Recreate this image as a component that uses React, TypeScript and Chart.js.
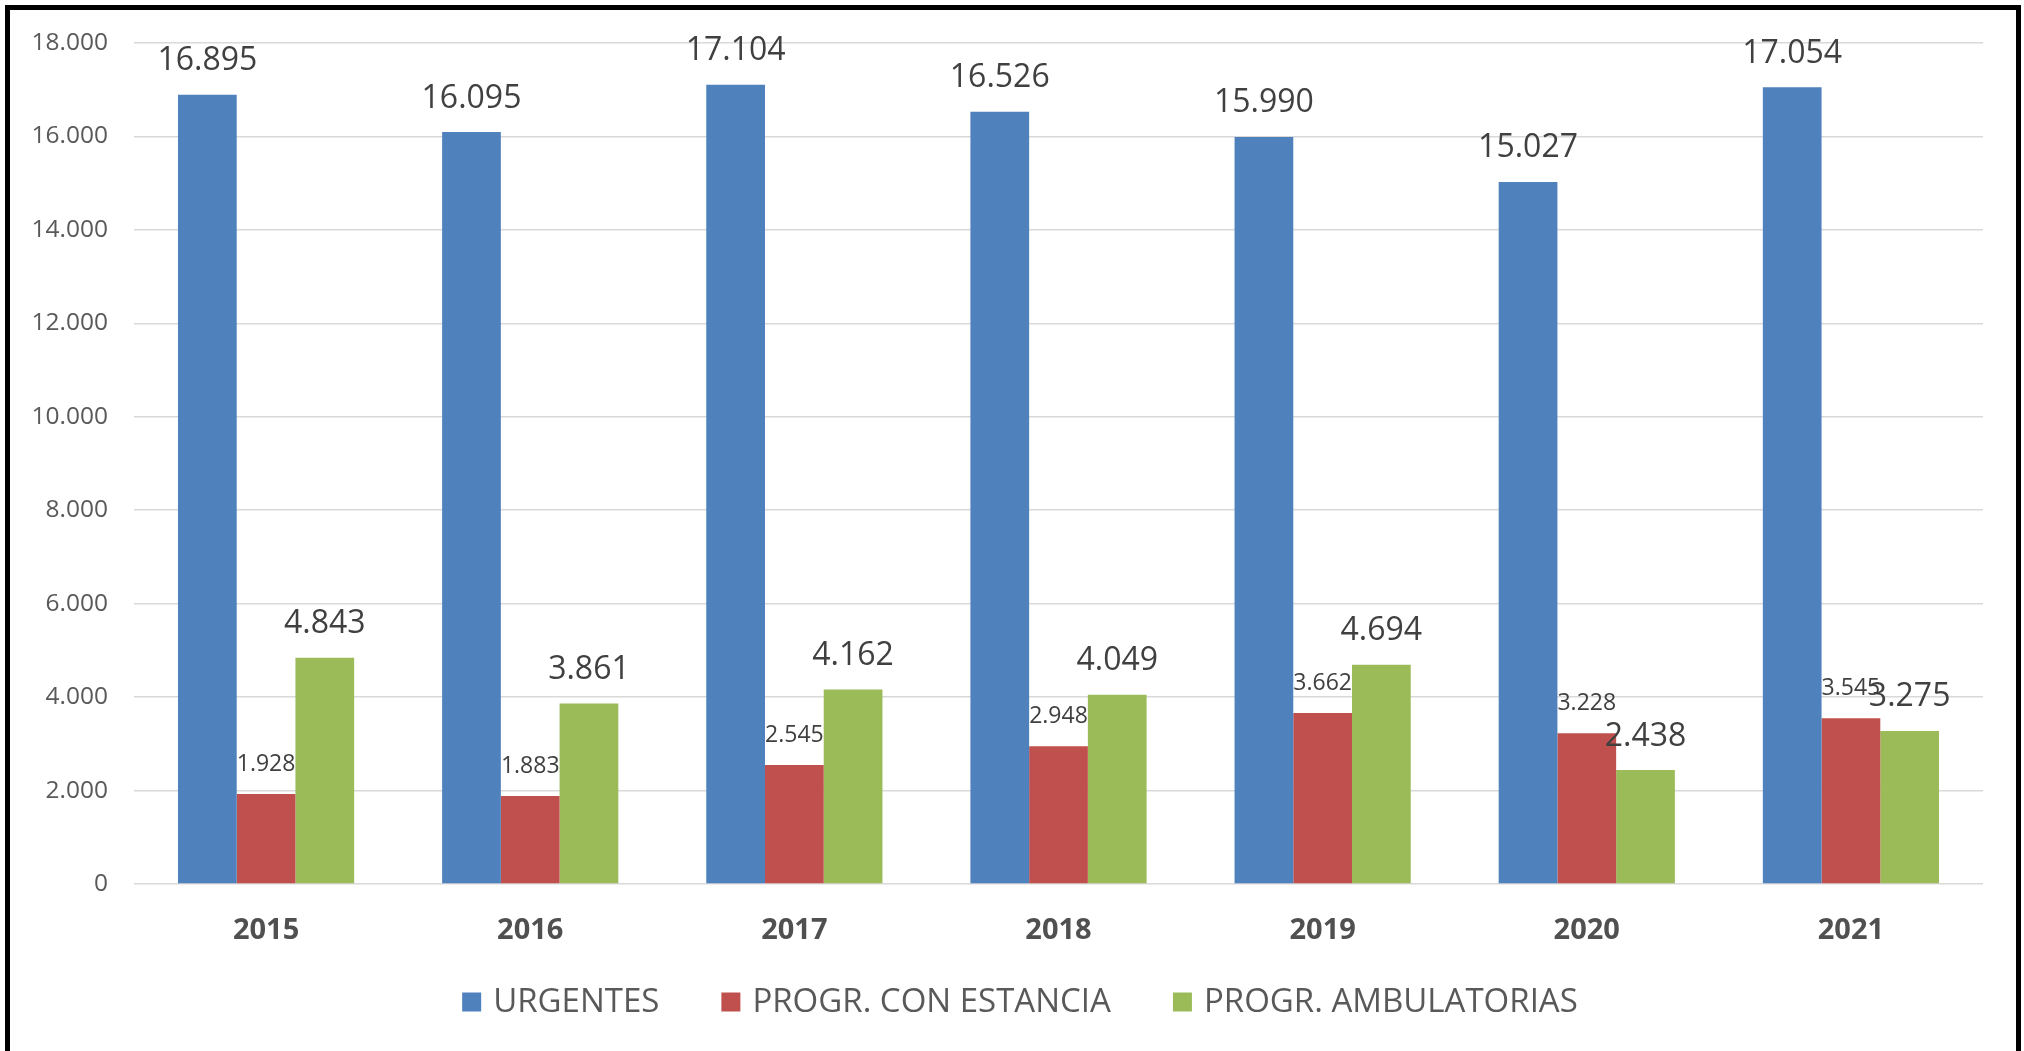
import React, { useEffect, useRef } from "react";
import { Chart, registerables } from "chart.js";

Chart.register(...registerables);

const categories = ["2015", "2016", "2017", "2018", "2019", "2020", "2021"];
const urgentes = [16895, 16095, 17104, 16526, 15990, 15027, 17054];
const conEstancia = [1928, 1883, 2545, 2948, 3662, 3228, 3545];
const ambulatorias = [4843, 3861, 4162, 4049, 4694, 2438, 3275];
const seriesLabels = ["URGENTES", "PROGR. CON ESTANCIA", "PROGR. AMBULATORIAS"];
const seriesColors = ["#4F81BD", "#C0504D", "#9BBB59"];
const yMax = 18000;
const yStep = 2000;

const FONT = '"Open Sans", "DejaVu Sans", sans-serif';

const fmt = (v: number) =>
  String(Math.round(v)).replace(/\B(?=(\d{3})+(?!\d))/g, ".");

const dataLabelPlugin = {
  id: "dataLabels",
  afterDatasetsDraw(chart: any) {
    const ctx = chart.ctx;
    chart.data.datasets.forEach((ds: any, di: number) => {
      const meta = chart.getDatasetMeta(di);
      const small = di === 1;
      const size = small ? 23 : 32;
      const off = small ? 23 : 24.5;
      ctx.save();
      ctx.font = `${size}px ${FONT}`;
      ctx.fillStyle = "#404040";
      ctx.textAlign = "center";
      ctx.textBaseline = "alphabetic";
      meta.data.forEach((el: any, i: number) => {
        ctx.fillText(fmt(ds.data[i]), el.x, el.y - off);
      });
      ctx.restore();
    });
  },
};

const legendPlugin = {
  id: "bottomLegend",
  afterDraw(chart: any) {
    const ctx = chart.ctx;
    ctx.save();
    ctx.font = `33px ${FONT}`;
    const box = 19;
    const gap = 12;
    const spacing = 62;
    const items = chart.data.datasets.map((ds: any) => ({
      text: ds.label,
      color: ds.backgroundColor,
      w: ctx.measureText(ds.label).width,
    }));
    const total =
      items.reduce((s: number, it: any) => s + box + gap + it.w, 0) +
      spacing * (items.length - 1);
    let x = chart.width / 2 - total / 2 + 8;
    const yc = chart.chartArea.bottom + 119;
    ctx.textBaseline = "middle";
    ctx.textAlign = "left";
    items.forEach((it: any) => {
      ctx.fillStyle = it.color;
      ctx.fillRect(x, yc - box / 2 - 1, box, box);
      ctx.fillStyle = "#595959";
      ctx.fillText(it.text, x + box + gap, yc);
      x += box + gap + it.w + spacing;
    });
    ctx.restore();
  },
};

export default function App() {
  const canvasRef = useRef<HTMLCanvasElement | null>(null);

  useEffect(() => {
    if (!canvasRef.current) return;
    const chart = new Chart(canvasRef.current, {
      type: "bar",
      data: {
        labels: categories,
        datasets: [
          { label: seriesLabels[0], data: urgentes, backgroundColor: seriesColors[0] },
          { label: seriesLabels[1], data: conEstancia, backgroundColor: seriesColors[1] },
          { label: seriesLabels[2], data: ambulatorias, backgroundColor: seriesColors[2] },
        ],
      },
      options: {
        animation: false,
        responsive: true,
        maintainAspectRatio: false,
        devicePixelRatio: 1,
        layout: { padding: { left: 10, top: 43, right: 41, bottom: 87 } },
        datasets: {
          bar: { categoryPercentage: 0.667, barPercentage: 1.0 },
        },
        plugins: {
          legend: { display: false },
          tooltip: { enabled: false },
        },
        scales: {
          x: {
            grid: { display: false, drawTicks: false },
            border: { display: false },
            ticks: {
              font: { family: FONT, size: 29, weight: "bold" },
              color: "#505050",
              padding: 29,
            },
            afterFit: (scale: any) => {
              scale.height = 80;
            },
          },
          y: {
            min: 0,
            max: yMax,
            grid: { color: "#D9D9D9", lineWidth: 1.5, drawTicks: false },
            border: { display: false },
            ticks: {
              stepSize: yStep,
              font: { family: FONT, size: 24.5 },
              color: "#595959",
              padding: 26,
              callback: (v: any) => fmt(Number(v)),
            },
            afterFit: (scale: any) => {
              scale.width = 124;
            },
          },
        },
      },
      plugins: [dataLabelPlugin, legendPlugin],
    });
    return () => chart.destroy();
  }, []);

  return (
    <div
      style={{
        position: "fixed",
        left: 0,
        top: 0,
        width: 2024,
        height: 1051,
        background: "#ffffff",
        overflow: "hidden",
      }}
    >
      <canvas ref={canvasRef} />
      <div
        style={{
          position: "absolute",
          left: 5,
          top: 5,
          width: 2016,
          height: 1100,
          border: "5px solid #000",
          boxSizing: "border-box",
          pointerEvents: "none",
        }}
      />
    </div>
  );
}
